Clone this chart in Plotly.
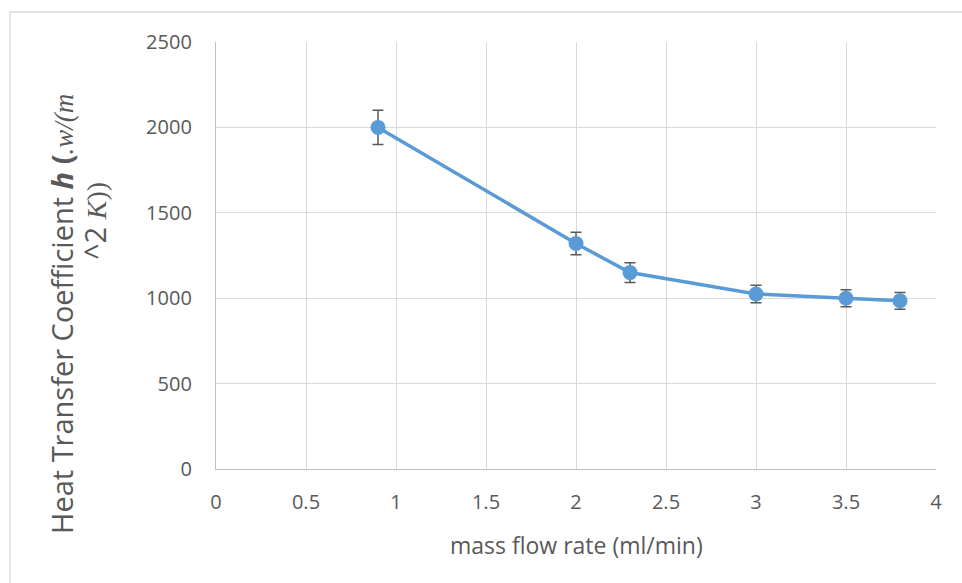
import plotly.graph_objects as go

flow_rate = [0.9, 2.0, 2.3, 3.0, 3.5, 3.8]
h_coeff = [2000, 1320, 1150, 1025, 1000, 985]
h_err = [100, 66, 57.5, 51, 50, 49]

x_ticks = [0, 0.5, 1, 1.5, 2, 2.5, 3, 3.5, 4]
y_ticks = [0, 500, 1000, 1500, 2000, 2500]

FONT = "Open Sans"
SERIF = "Liberation Serif"
TXT = "#595959"
GRID = "#d9d9d9"

fig = go.Figure()
fig.add_trace(go.Scatter(
    x=flow_rate, y=h_coeff, mode="lines+markers",
    line=dict(color="#5B9BD5", width=3.5),
    marker=dict(color="#5B9BD5", size=15),
    error_y=dict(type="data", array=h_err, visible=True,
                 color="#595959", thickness=1.5, width=5.5),
    showlegend=False, hoverinfo="x+y",
))

W, H = 962, 583
L, R, T, B = 216, 26, 42, 114
pw, ph = W - L - R, H - T - B

def px(x):
    return (x - L) / pw

def py(y):
    return (H - B - y) / ph

line1 = ("Heat Transfer Coefficient <b><i>h</i> (</b>"
         f"<span style='font-family:{SERIF};font-size:27px'><i>.w/(m</i></span>")
line2 = (f"^2 <span style='font-family:{SERIF};font-size:28px'><i>K</i>))</span>")

fig.update_layout(
    width=W, height=H,
    margin=dict(l=L, r=R, t=T, b=B),
    paper_bgcolor="white", plot_bgcolor="white",
    font=dict(family=FONT, color=TXT, size=20),
    xaxis=dict(range=[0, 4], tickvals=x_ticks,
               ticktext=[f"{v:g}" for v in x_ticks],
               showgrid=True, gridcolor=GRID, gridwidth=1.3,
               showline=True, linecolor="#bfbfbf", linewidth=1.3,
               zeroline=False, ticks="", ticklabelstandoff=15,
               tickfont=dict(size=20, color=TXT, family=FONT), fixedrange=True),
    yaxis=dict(range=[0, 2500], tickvals=y_ticks,
               ticktext=[str(v) for v in y_ticks],
               showgrid=True, gridcolor=GRID, gridwidth=1.3,
               showline=True, linecolor="#bfbfbf", linewidth=1.3,
               zeroline=False, ticks="", ticklabelstandoff=19,
               tickfont=dict(size=20, color=TXT, family=FONT), fixedrange=True),
    shapes=[dict(type="rect", xref="paper", yref="paper",
                 x0=px(10), x1=px(975), y0=py(12), y1=py(600),
                 line=dict(color=GRID, width=1.3), fillcolor="rgba(0,0,0,0)",
                 layer="below")],
    annotations=[
        dict(text="mass flow rate (ml/min)", xref="paper", yref="paper",
             x=px(576), y=py(545), xanchor="center", yanchor="middle",
             showarrow=False, font=dict(size=23, color=TXT, family=FONT)),
        dict(text=line1,
             xref="paper", yref="paper", x=px(61), y=py(314),
             xanchor="center", yanchor="middle", textangle=-90,
             showarrow=False, font=dict(size=29, color=TXT, family=FONT)),
        dict(text=line2,
             xref="paper", yref="paper", x=px(94), y=py(221),
             xanchor="center", yanchor="middle", textangle=-90,
             showarrow=False, font=dict(size=29, color=TXT, family=FONT)),
    ],
)

fig.write_html("out.html")
